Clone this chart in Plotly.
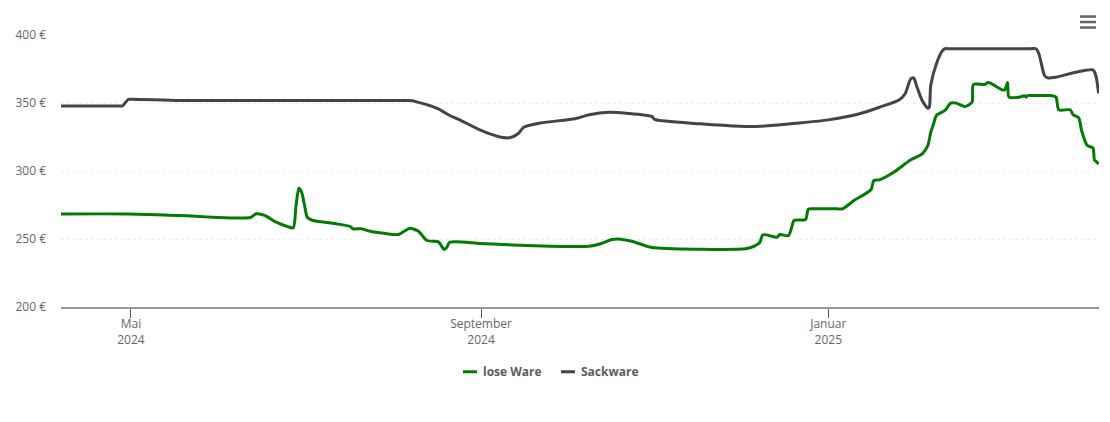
import plotly.graph_objects as go

# preise in euro
lose_dates = ['2024-04-06 10:00', '2024-04-30', '2024-05-18', '2024-06-12', '2024-06-14', '2024-06-17', '2024-06-21',
              '2024-06-25', '2024-06-27', '2024-06-28', '2024-06-29', '2024-06-30', '2024-07-01', '2024-07-02',
              '2024-07-04', '2024-07-06', '2024-07-12', '2024-07-17', '2024-07-18', '2024-07-21', '2024-07-24',
              '2024-07-29', '2024-08-03', '2024-08-05', '2024-08-07', '2024-08-10', '2024-08-13', '2024-08-17',
              '2024-08-18', '2024-08-19', '2024-08-20', '2024-08-21', '2024-09-01', '2024-09-15', '2024-10-09',
              '2024-10-13', '2024-10-17', '2024-10-20', '2024-10-24', '2024-10-31', '2024-11-17', '2024-12-03',
              '2024-12-06', '2024-12-08', '2024-12-09', '2024-12-14', '2024-12-15', '2024-12-18', '2024-12-19',
              '2024-12-20', '2024-12-24', '2024-12-25', '2024-12-27', '2025-01-04', '2025-01-06', '2025-01-10',
              '2025-01-16', '2025-01-17', '2025-01-19', '2025-01-24', '2025-01-30', '2025-02-03', '2025-02-05',
              '2025-02-06', '2025-02-07', '2025-02-08', '2025-02-11', '2025-02-13', '2025-02-15', '2025-02-18',
              '2025-02-20 12:00', '2025-02-21', '2025-02-25', '2025-02-26', '2025-02-27', '2025-03-03', '2025-03-04',
              '2025-03-05', '2025-03-05 12:00', '2025-03-09', '2025-03-11', '2025-03-11 12:00', '2025-03-12',
              '2025-03-14', '2025-03-18', '2025-03-20', '2025-03-22', '2025-03-23', '2025-03-27', '2025-03-28',
              '2025-03-30', '2025-03-31', '2025-04-02', '2025-04-04', '2025-04-04 12:00', '2025-04-05', '2025-04-06']
lose_prices = [268.4, 268.4, 267.3, 265.8, 268.5, 267.3, 262.4,
               259.2, 258.2, 274.6, 287.4, 284.2, 274.6, 265.8,
               263.6, 262.9, 261.2, 259.2, 257.5, 257.5, 255.7,
               254.2, 253.3, 255.7, 257.9, 255.7, 248.9, 247.9,
               245.2, 242.3, 244.0, 247.6, 246.7, 245.4, 244.7,
               246.5, 249.6, 249.9, 248.4, 243.8, 242.5, 242.8,
               244.7, 247.6, 253.1, 251.3, 253.3, 252.4, 257.5,
               263.6, 264.3, 271.9, 272.2, 272.2, 272.2, 278.3,
               286.2, 293.0, 293.5, 299.1, 308.2, 312.6, 318.8,
               328.3, 334.7, 340.8, 344.5, 349.9, 349.9, 347.4,
               350.6, 363.6, 363.6, 365.1, 364.6, 359.7, 359.7,
               365.1, 354.3, 354.3, 355.3, 354.3, 355.5,
               355.5, 355.5, 355.5, 354.3, 345.0, 345.0, 341.5,
               339.1, 329.8, 318.7, 317.0, 308.2, 307.2, 305.3]

sack_dates = ['2024-04-06 10:00', '2024-04-27', '2024-04-28', '2024-04-30', '2024-05-01', '2024-05-18', '2024-06-12',
              '2024-08-03', '2024-08-07', '2024-08-11', '2024-08-17', '2024-08-21', '2024-08-25', '2024-09-01',
              '2024-09-07', '2024-09-11', '2024-09-14', '2024-09-16', '2024-09-22', '2024-10-04', '2024-10-09',
              '2024-10-16', '2024-10-22', '2024-10-31', '2024-11-01', '2024-11-17', '2024-12-01', '2024-12-08',
              '2025-01-01', '2025-01-12', '2025-01-19', '2025-01-26', '2025-01-28', '2025-01-30', '2025-01-31',
              '2025-02-01', '2025-02-03', '2025-02-05', '2025-02-05 12:00', '2025-02-06', '2025-02-08', '2025-02-10',
              '2025-02-11', '2025-02-13', '2025-03-13', '2025-03-15', '2025-03-16', '2025-03-18', '2025-03-19',
              '2025-03-22', '2025-03-29', '2025-04-04', '2025-04-05', '2025-04-06']
sack_prices = [347.8, 347.8, 347.8, 352.6, 352.8, 351.8, 351.8,
               351.8, 351.8, 349.9, 345.7, 340.8, 337.1, 329.8,
               325.4, 324.4, 327.4, 332.2, 335.4, 338.4, 341.3,
               343.2, 342.5, 340.1, 337.9, 334.7, 332.9, 332.9,
               337.6, 342.1, 346.9, 352.4, 356.8, 367.8, 368.5,
               362.9, 351.8, 346.2, 346.9, 362.9, 378.8, 388.1,
               389.9, 389.9, 389.9, 389.9, 386.2, 370.2, 368.5,
               369.0, 372.6, 374.4, 370.2, 357.2]

x_ticks = ['2024-05-01', '2024-09-01', '2025-01-01']
x_labels = ['Mai<br>2024', 'September<br>2024', 'Januar<br>2025']
y_ticks = [200, 250, 300, 350, 400]
y_labels = ['200 €', '250 €', '300 €', '350 €', '400 €']

LEFT, RIGHT, TOP, BOTTOM = 61, 1099, 34.5, 307.5


def px_x(x):
    return (x - LEFT) / (RIGHT - LEFT)


def px_y(y):
    return (BOTTOM - y) / (BOTTOM - TOP)


fig = go.Figure()
fig.add_trace(go.Scatter(x=lose_dates, y=lose_prices, name='lose Ware', mode='lines',
                         line=dict(color='#037a03', width=3, shape='spline', smoothing=0.7)))
fig.add_trace(go.Scatter(x=sack_dates, y=sack_prices, name='Sackware', mode='lines',
                         line=dict(color='#434348', width=3, shape='spline', smoothing=0.7)))

fig.update_layout(
    width=1110, height=422,
    margin=dict(l=LEFT, r=1110 - RIGHT, t=TOP, b=422 - BOTTOM),
    paper_bgcolor='white', plot_bgcolor='white',
    font=dict(family='Open Sans', size=12, color='#666666'),
    showlegend=False,
)
fig.update_xaxes(range=['2024-04-06 10:00', '2025-04-06 03:00'], tickvals=x_ticks, ticktext=x_labels,
                 ticks='outside', ticklen=9, tickcolor='#555555', tickwidth=1, ticklabelstandoff=-4,
                 showgrid=False, showline=True, linecolor='#999999', linewidth=1.5, zeroline=False)
fig.update_yaxes(range=[200, 400], tickvals=y_ticks, ticktext=y_labels, ticks='', ticklabelstandoff=14,
                 showgrid=True, gridcolor='#eeeeee', griddash='dot', gridwidth=1, zeroline=False, showline=False)

# legende von hand, die von plotly hat zu lange linien
for x0, x1, text_x, name, color in [(463, 477, 483, 'lose Ware', '#037a03'), (561, 575, 581, 'Sackware', '#434348')]:
    fig.add_shape(type='line', xref='paper', yref='paper', x0=px_x(x0), x1=px_x(x1), y0=px_y(372.5), y1=px_y(372.5),
                  line=dict(color=color, width=3))
    fig.add_annotation(xref='paper', yref='paper', x=px_x(text_x), y=px_y(372.5), text=name, showarrow=False,
                       xanchor='left', yanchor='middle', xshift=-2,
                       font=dict(size=12, color='#5c5c5c', weight='bold'))

# menue-symbol oben rechts
for y0 in [16, 21.5, 27]:
    fig.add_shape(type='line', xref='paper', yref='paper', x0=px_x(1080), x1=px_x(1096), y0=px_y(y0), y1=px_y(y0),
                  line=dict(color='#666666', width=2.5))

fig.write_html('out.html', config=dict(displayModeBar=False),
               post_script="document.body.style.margin='0';document.body.style.overflow='hidden';")
